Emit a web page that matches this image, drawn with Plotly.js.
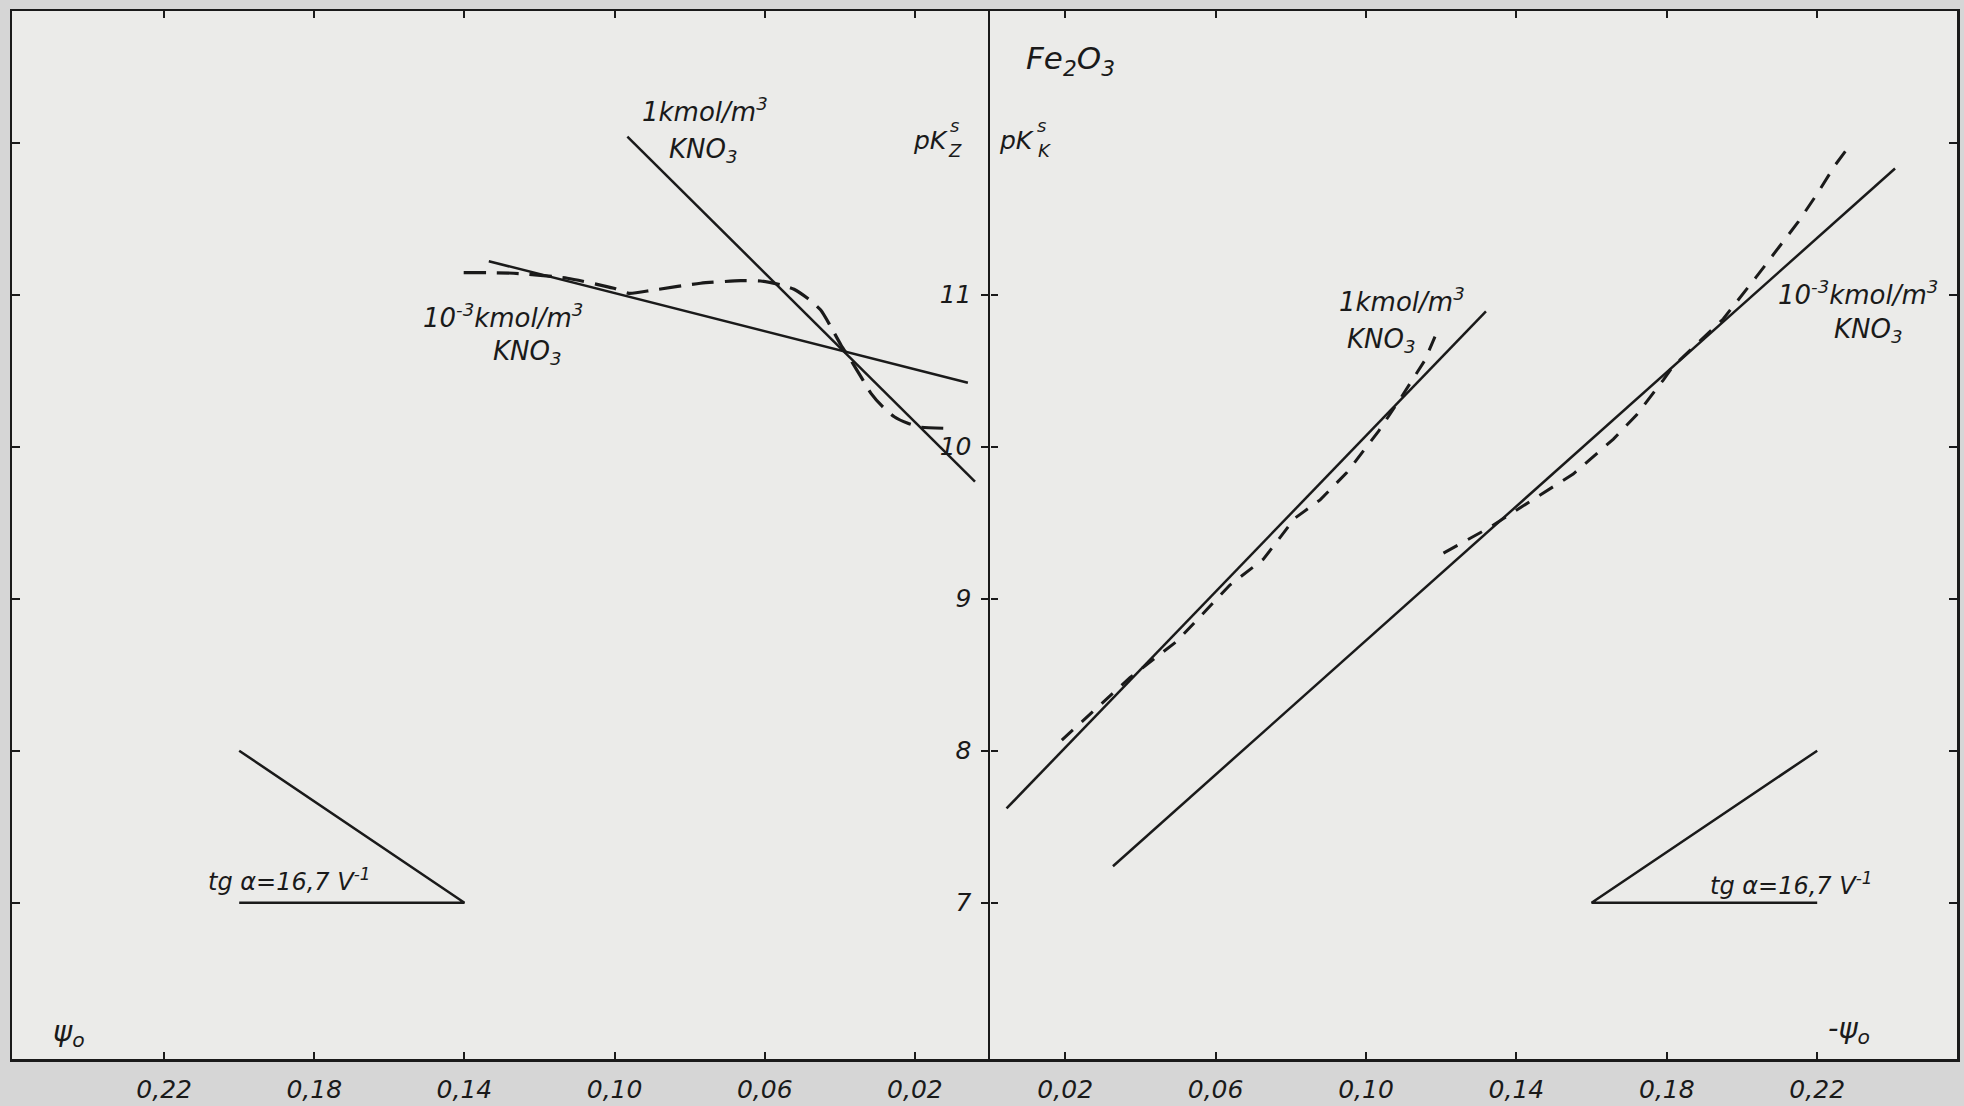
<!DOCTYPE html>
<html>
<head>
<meta charset="utf-8">
<script src="https://cdn.plot.ly/plotly-3.0.1.min.js"></script>
<style>
html,body{margin:0;padding:0;background:#d8d8d8;}
#chart{width:1964px;height:1106px;}
</style>
</head>
<body>
<div id="chart"></div>
<script>
// ---------- data ----------
// left half: pK_Z^s vs psi0
const psiZ_1kmol = [0.0966, 0.0040];
const pKZ_1kmol  = [12.04, 9.77];
const psiZ_m3    = [0.1335, 0.0059];
const pKZ_m3     = [11.22, 10.42];
const psiZ_dash  = [0.1402,0.1269,0.1126,0.1002,0.0962,0.0895,0.0771,0.0664,0.0611,0.0557,0.0522,0.0486,0.0451,0.0424,0.0397,0.0371,0.0344,0.0317,0.0286,0.0255,0.0219,0.0184,0.0122];
const pKZ_dash   = [11.145,11.141,11.108,11.042,11.009,11.031,11.075,11.092,11.090,11.064,11.036,10.976,10.899,10.789,10.669,10.570,10.461,10.351,10.263,10.197,10.154,10.128,10.121];

// right half: pK_K^s vs -psi0
const psiK_1kmol      = [0.0044, 0.1319];
const pKK_1kmol       = [7.62, 10.89];
const psiK_1kmol_dash = [0.0191,0.0297,0.0372,0.0497,0.0638,0.0727,0.0811,0.0878,0.0949,0.1033,0.1095,0.1157,0.1188];
const pKK_1kmol_dash  = [8.07,8.31,8.48,8.72,9.09,9.26,9.53,9.65,9.83,10.10,10.33,10.57,10.75];
const psiK_m3         = [0.0327, 0.2407];
const pKK_m3          = [7.24, 11.83];
const psiK_m3_dash    = [0.1206,0.1250,0.1330,0.1449,0.1551,0.1658,0.1720,0.1791,0.1817,0.1950,0.2039,0.2150,0.2199,0.2247,0.2283];
const pKK_m3_dash     = [9.30,9.36,9.47,9.66,9.82,10.05,10.21,10.44,10.53,10.84,11.12,11.48,11.66,11.85,11.97];

// slope triangles (tg alpha = 16.7 V^-1)
const triL_psi = [0.20, 0.14, 0.20];
const triL_pK  = [8, 7, 7];
const triR_psi = [0.22, 0.16, 0.22];
const triR_pK  = [8, 7, 7];

// ticks
const xTickVals     = [0.02, 0.06, 0.10, 0.14, 0.18, 0.22];
const yTickVals     = [7, 8, 9, 10, 11];
const frameTickVals = [7, 8, 9, 10, 11, 12];

// ---------- layout geometry (pixels of the picture) ----------
const L = 12, R = 1957, T = 11, B = 1059;
const W = R - L, H = B - T;
const split = (990 - L) / W;
const yRange = [5.972, 12.866];
const ink = '#1a1a1a';
const FONT = 'DejaVu Sans, Liberation Sans, sans-serif';

function line(x, y, xa, width, dash, shape) {
  return {x: x, y: y, xaxis: xa, yaxis: 'y', type: 'scatter', mode: 'lines',
          line: {color: ink, width: width, dash: dash || 'solid', shape: shape || 'linear', smoothing: 0.6},
          hoverinfo: 'skip', showlegend: false};
}
// empty carriers so that the extra (frame / centre) y axes are instantiated
function carrier(xa, ya) {
  return {x: [], y: [], xaxis: xa, yaxis: ya, type: 'scatter', mode: 'lines',
          hoverinfo: 'skip', showlegend: false};
}

const traces = [
  line(psiZ_1kmol, pKZ_1kmol, 'x', 2.5),
  line(psiZ_m3, pKZ_m3, 'x', 2.5),
  line(psiZ_dash, pKZ_dash, 'x', 3.2, '22px,11px', 'spline'),
  line(triL_psi, triL_pK, 'x', 2.5),
  line(psiK_1kmol, pKK_1kmol, 'x2', 2.5),
  line(psiK_1kmol_dash, pKK_1kmol_dash, 'x2', 3, '15px,12px'),
  line(psiK_m3, pKK_m3, 'x2', 2.5),
  line(psiK_m3_dash, pKK_m3_dash, 'x2', 3, '16px,12px'),
  line(triR_psi, triR_pK, 'x2', 2.5),
  carrier('x2', 'y2'),
  carrier('x', 'y3'),
  carrier('x2', 'y4')
];

function ann(px, py, text, size, opts) {
  return Object.assign({
    xref: 'paper', yref: 'paper', x: (px - L) / W, y: (B - py) / H,
    xanchor: 'center', yanchor: 'middle', showarrow: false, text: text,
    font: {family: FONT, size: size, color: ink, style: 'italic'}
  }, opts || {});
}

const tickFont = {family: FONT, size: 25, color: ink, style: 'italic'};

const xCommon = {
  tickmode: 'array', tickvals: xTickVals, tickformat: '.2f',
  ticks: 'inside', ticklen: 7, tickwidth: 2, tickcolor: ink,
  showline: true, linecolor: ink, linewidth: 2.5, mirror: 'ticks',
  showgrid: false, zeroline: false, tickfont: tickFont, ticklabelstandoff: 6,
  fixedrange: true
};

const yCommon = {
  range: yRange, autorange: false, tickmode: 'array', showgrid: false, zeroline: false,
  tickcolor: ink, tickwidth: 2, linecolor: ink, fixedrange: true
};

const layout = {
  width: 1964, height: 1106,
  margin: {l: L, r: 1964 - R, t: T, b: 1106 - B, pad: 0},
  paper_bgcolor: '#d6d6d6',
  plot_bgcolor: '#ebebe9',
  separators: ',.',
  showlegend: false,
  xaxis: Object.assign({}, xCommon, {domain: [0, split], range: [(990 - L) / 3754, 0], anchor: 'y'}),
  xaxis2: Object.assign({}, xCommon, {domain: [split, 1], range: [0, (R - 990) / 3760], anchor: 'y'}),
  // left frame
  yaxis: Object.assign({}, yCommon, {anchor: 'x', side: 'left', tickvals: frameTickVals,
          ticks: 'inside', ticklen: 8, showline: true, linewidth: 2.5, showticklabels: false}),
  // right frame
  yaxis2: Object.assign({}, yCommon, {overlaying: 'y', anchor: 'x2', side: 'right', tickvals: frameTickVals,
          ticks: 'inside', ticklen: 8, showline: true, linewidth: 2.5, showticklabels: false}),
  // centre axis, ticks to the right
  yaxis3: Object.assign({}, yCommon, {overlaying: 'y', anchor: 'x', side: 'right', tickvals: yTickVals,
          ticks: 'outside', ticklen: 7, showline: false, showticklabels: false}),
  // centre axis, line + ticks + labels to the left
  yaxis4: Object.assign({}, yCommon, {overlaying: 'y', anchor: 'x2', side: 'left', tickvals: yTickVals,
          ticks: 'outside', ticklen: 7, showline: true, linewidth: 2.5, showticklabels: true,
          tickfont: tickFont, ticklabelstandoff: 4}),
  annotations: [
    ann(1070, 60, 'Fe<sub>2</sub>O<sub>3</sub>', 31),
    ann(931, 141, 'pK', 25), ann(954, 125, 's', 18), ann(955, 150, 'Z', 18),
    ann(1017, 141, 'pK', 25), ann(1041, 125, 's', 18), ann(1044, 150, 'K', 18),
    ann(705, 110, '1kmol/m<sup>3</sup>', 26),
    ann(703, 150, 'KNO<sub>3</sub>', 26),
    ann(503, 316, '10<sup>-3</sup>kmol/m<sup>3</sup>', 26),
    ann(527, 352, 'KNO<sub>3</sub>', 26),
    ann(1402, 300, '1kmol/m<sup>3</sup>', 26),
    ann(1381, 340, 'KNO<sub>3</sub>', 26),
    ann(1858, 293, '10<sup>-3</sup>kmol/m<sup>3</sup>', 26),
    ann(1868, 331, 'KNO<sub>3</sub>', 26),
    ann(289, 880, 'tg α=16,7 V<sup>-1</sup>', 24),
    ann(1791, 884, 'tg α=16,7 V<sup>-1</sup>', 24),
    ann(69, 1033, 'ψ<sub>o</sub>', 29),
    ann(1849, 1030, '-ψ<sub>o</sub>', 29)
  ]
};

Plotly.newPlot('chart', traces, layout, {displayModeBar: false, staticPlot: true});
</script>
</body>
</html>
